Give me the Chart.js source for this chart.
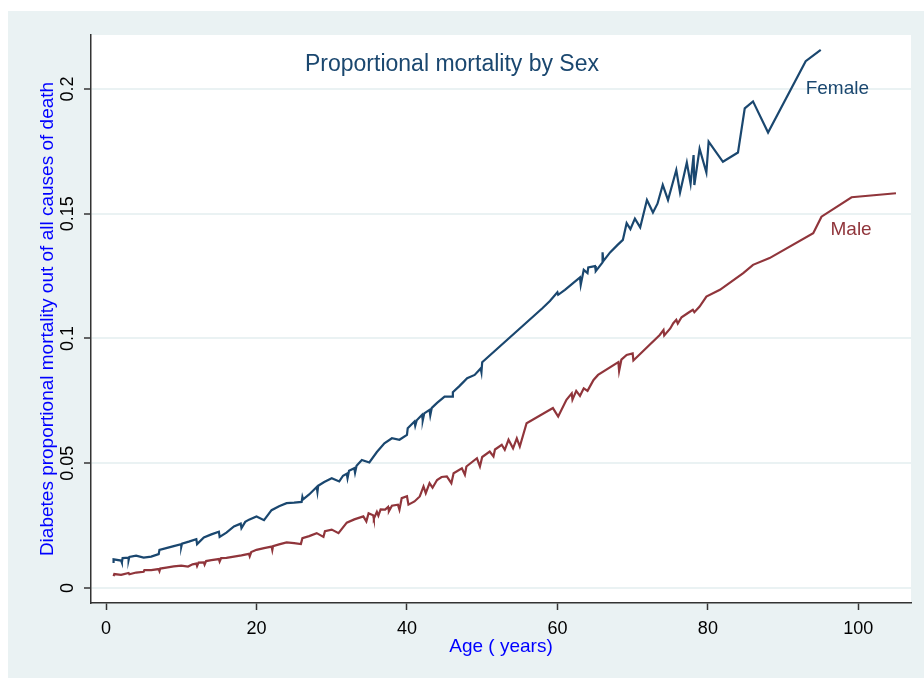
<!DOCTYPE html>
<html>
<head>
<meta charset="utf-8">
<script src="https://cdn.jsdelivr.net/npm/chart.js@4.4.1/dist/chart.umd.min.js"></script>
<style>
    html, body { margin: 0; padding: 0; background: #ffffff; }
    #wrap { position: absolute; left: 0; top: 0; width: 924px; height: 678px; }
</style>
</head>
<body>
<div id="wrap"><canvas id="chart" width="924" height="678"></canvas></div>
<script>
// age (years) and proportional mortality in plotting order
const femaleAge = [1, 1, 2, 2.1, 2.2, 3, 3, 3.1, 4, 5, 6, 7, 7.1, 8, 9, 10, 10, 10.1, 11, 12, 12.1, 13, 14, 15, 15.1, 16, 17, 17.9, 18, 18.5, 19, 20, 21, 22, 23, 24, 25, 26, 26.1, 26.2, 27, 28, 28.1, 28.2, 29, 30, 31, 31.5, 32, 32.1, 32.3, 33, 33.1, 33.3, 34, 35, 36, 37, 38, 39, 40, 40.1, 41, 41.1, 41.3, 42, 42.1, 42.3, 43, 43.1, 43.3, 44, 45, 46, 46.1, 47, 48, 49, 49.8, 49.9, 50, 58, 59, 60, 60.1, 61, 62, 63, 63.1, 63.5, 64, 64.1, 65, 65.1, 66, 66, 66.1, 67, 68, 68.7, 69.2, 69.7, 70.3, 71, 71.9, 72.7, 73.3, 74, 74.7, 75.8, 76.3, 77.2, 77.7, 78.1, 78.2, 78.9, 79.8, 80.1, 82, 84, 84.9, 86, 88, 93, 95];
const femaleRate = [0.0100, 0.0115, 0.0110, 0.0102, 0.0120, 0.0122, 0.0112, 0.0125, 0.0130, 0.0122, 0.0126, 0.0136, 0.0153, 0.0160, 0.0168, 0.0176, 0.0165, 0.0178, 0.0186, 0.0196, 0.0176, 0.0203, 0.0215, 0.0226, 0.0205, 0.0222, 0.0247, 0.0258, 0.0240, 0.0265, 0.0274, 0.0287, 0.0272, 0.0312, 0.0328, 0.0340, 0.0342, 0.0345, 0.0365, 0.0355, 0.0375, 0.0405, 0.0385, 0.0410, 0.0425, 0.0440, 0.0427, 0.0450, 0.0458, 0.0440, 0.0470, 0.0480, 0.0462, 0.0490, 0.0513, 0.0503, 0.0545, 0.0580, 0.0600, 0.0594, 0.0614, 0.0640, 0.0667, 0.0650, 0.0672, 0.0694, 0.0672, 0.0700, 0.0714, 0.0692, 0.0722, 0.0742, 0.0767, 0.0767, 0.0785, 0.0810, 0.0841, 0.0854, 0.0880, 0.0865, 0.0905, 0.1121, 0.1150, 0.1185, 0.1175, 0.1195, 0.1220, 0.1245, 0.1215, 0.1275, 0.1262, 0.1285, 0.1290, 0.1270, 0.1305, 0.1345, 0.1310, 0.1345, 0.1375, 0.1395, 0.1462, 0.1438, 0.1480, 0.1445, 0.1555, 0.1505, 0.1540, 0.1615, 0.1555, 0.1675, 0.1585, 0.1705, 0.1620, 0.1735, 0.1615, 0.1760, 0.1665, 0.1789, 0.1708, 0.1745, 0.1922, 0.1950, 0.1825, 0.2111, 0.2156];

const maleAge = [1, 1.1, 2, 3, 3.1, 4, 5, 5.1, 6, 7, 7.1, 7.2, 8, 9, 10, 10.9, 11.5, 12, 12.1, 12.3, 13, 13.1, 13.3, 14, 15, 15.1, 15.3, 16, 17, 18, 19, 19.1, 19.3, 20, 21, 22, 22.1, 22.2, 23, 24, 25, 25.9, 26.1, 27, 28, 28.9, 29.1, 30, 30.9, 32, 33, 34.2, 34.6, 34.9, 35.5, 35.6, 36, 36.2, 36.5, 37.1, 37.5, 37.6, 38, 38.8, 39, 39.3, 40, 40.2, 41, 41.7, 42.2, 42.5, 43, 43.4, 44, 44.6, 45.3, 45.9, 46.2, 47.3, 47.7, 47.9, 49.3, 49.7, 50, 51, 51.5, 51.7, 52.6, 53, 53.5, 54.1, 54.6, 55, 55.9, 59.4, 60.1, 61.2, 61.9, 62, 62.5, 63, 63.5, 64, 64.8, 65.4, 68.1, 68.2, 68.5, 69.2, 70, 70.1, 73.6, 74.1, 74.2, 75, 75.4, 75.8, 76, 76.5, 77.5, 78, 78.2, 78.9, 79.8, 81.6, 84.7, 86, 88.2, 94, 95.1, 99.1, 105];
const maleRate = [0.0048, 0.0056, 0.0053, 0.0060, 0.0055, 0.0062, 0.0065, 0.0072, 0.0072, 0.0076, 0.0068, 0.0078, 0.0082, 0.0087, 0.0090, 0.0086, 0.0095, 0.0098, 0.0088, 0.0102, 0.0103, 0.0094, 0.0108, 0.0112, 0.0116, 0.0106, 0.0120, 0.0121, 0.0126, 0.0131, 0.0137, 0.0127, 0.0144, 0.0153, 0.0160, 0.0166, 0.0152, 0.0168, 0.0175, 0.0183, 0.0180, 0.0176, 0.0200, 0.0208, 0.0220, 0.0205, 0.0228, 0.0234, 0.0220, 0.0262, 0.0275, 0.0287, 0.0267, 0.0300, 0.0292, 0.0278, 0.0305, 0.0290, 0.0315, 0.0314, 0.0325, 0.0308, 0.0330, 0.0334, 0.0314, 0.0360, 0.0368, 0.0334, 0.0347, 0.0367, 0.0407, 0.0380, 0.0420, 0.0402, 0.0433, 0.0445, 0.0447, 0.0420, 0.0460, 0.0480, 0.0454, 0.0487, 0.0520, 0.0487, 0.0525, 0.0547, 0.0527, 0.0555, 0.0574, 0.0554, 0.0594, 0.0560, 0.0600, 0.0567, 0.0660, 0.0721, 0.0687, 0.0754, 0.0780, 0.0755, 0.0790, 0.0770, 0.0800, 0.0790, 0.0834, 0.0854, 0.0905, 0.0870, 0.0915, 0.0934, 0.0940, 0.0912, 0.1014, 0.1034, 0.1012, 0.1040, 0.1061, 0.1075, 0.1060, 0.1085, 0.1105, 0.1115, 0.1105, 0.1128, 0.1168, 0.1195, 0.1262, 0.1295, 0.1322, 0.1422, 0.1488, 0.1566, 0.1582];

const xTicks = [0, 20, 40, 60, 80, 100];
const yTicks = [0, 0.05, 0.1, 0.15, 0.2];
const yTickLabels = ['0', '0.05', '0.1', '0.15', '0.2'];

const FONT = '"Liberation Sans", Arial, sans-serif';
const NAVY = '#1a476f';
const MAROON = '#90353b';
const BG = '#eaf2f3';

function toPoints(ages, rates) {
    return ages.map((a, i) => ({ x: a, y: rates[i] }));
}

// backgrounds: white page, light graph region, white plot region
const backgroundPlugin = {
    id: 'stataBackground',
    beforeDraw(chart) {
        const ctx = chart.ctx;
        const area = chart.chartArea;
        ctx.save();
        ctx.fillStyle = '#ffffff';
        ctx.fillRect(0, 0, chart.width, chart.height);
        ctx.fillStyle = BG;
        ctx.fillRect(8, 11, chart.width - 8, chart.height - 11);
        ctx.fillStyle = '#ffffff';
        ctx.fillRect(area.left, area.top, area.right - area.left, area.bottom - area.top);
        ctx.restore();
    }
};

// rotated y tick labels, title and line labels
const textPlugin = {
    id: 'stataText',
    afterDraw(chart) {
        const ctx = chart.ctx;
        const xs = chart.scales.x;
        const ys = chart.scales.y;
        ctx.save();

        ctx.font = '18px ' + FONT;
        ctx.fillStyle = '#000000';
        ctx.textAlign = 'center';
        ctx.textBaseline = 'middle';
        yTicks.forEach((v, i) => {
            ctx.save();
            ctx.translate(chart.chartArea.left - 23, ys.getPixelForValue(v));
            ctx.rotate(-Math.PI / 2);
            ctx.fillText(yTickLabels[i], 0, 0);
            ctx.restore();
        });

        ctx.font = '23px ' + FONT;
        ctx.fillStyle = NAVY;
        ctx.fillText('Proportional mortality by Sex', 452, 65);

        ctx.font = '19px ' + FONT;
        ctx.textAlign = 'left';
        ctx.fillStyle = NAVY;
        ctx.fillText('Female', xs.getPixelForValue(93.0), ys.getPixelForValue(0.2));
        ctx.fillStyle = MAROON;
        ctx.fillText('Male', xs.getPixelForValue(96.3), ys.getPixelForValue(0.1435));
        ctx.restore();
    }
};

new Chart(document.getElementById('chart'), {
    type: 'scatter',
    data: {
        datasets: [
            {
                label: 'Female',
                data: toPoints(femaleAge, femaleRate),
                borderColor: NAVY,
                backgroundColor: NAVY,
                showLine: true,
                borderWidth: 2.2,
                pointRadius: 0,
                tension: 0
            },
            {
                label: 'Male',
                data: toPoints(maleAge, maleRate),
                borderColor: MAROON,
                backgroundColor: MAROON,
                showLine: true,
                borderWidth: 2.2,
                pointRadius: 0,
                tension: 0
            }
        ]
    },
    options: {
        responsive: false,
        animation: false,
        layout: { padding: { left: 0, top: 35, right: 13, bottom: 0 } },
        plugins: {
            legend: { display: false },
            tooltip: { enabled: false }
        },
        scales: {
            x: {
                type: 'linear',
                min: -2,
                max: 107,
                afterBuildTicks: (scale) => { scale.ticks = xTicks.map(v => ({ value: v })); },
                afterFit: (scale) => { scale.height = 75; },
                border: { display: true, color: '#333333', width: 1.5 },
                grid: {
                    drawOnChartArea: false,
                    drawTicks: true,
                    tickLength: 7,
                    tickColor: '#333333',
                    tickWidth: 1.5
                },
                ticks: {
                    color: '#000000',
                    font: { family: FONT, size: 18 },
                    padding: 8,
                    maxRotation: 0,
                    callback: (v) => String(v)
                },
                title: {
                    display: true,
                    text: 'Age ( years)',
                    color: '#0000ff',
                    font: { family: FONT, size: 19 },
                    padding: { top: 0, bottom: 20 }
                }
            },
            y: {
                type: 'linear',
                min: -0.006,
                max: 0.2216,
                afterBuildTicks: (scale) => { scale.ticks = yTicks.map(v => ({ value: v })); },
                afterFit: (scale) => { scale.width = 91; },
                border: { display: true, color: '#333333', width: 1.5 },
                grid: {
                    color: BG,
                    lineWidth: 2,
                    drawTicks: true,
                    tickLength: 7,
                    tickColor: '#333333',
                    tickWidth: 1.5
                },
                ticks: { display: false },
                title: {
                    display: true,
                    text: 'Diabetes proportional mortality out of all causes of death',
                    color: '#0000ff',
                    font: { family: FONT, size: 19 },
                    padding: { top: 36, bottom: 0 }
                }
            }
        }
    },
    plugins: [backgroundPlugin, textPlugin]
});
</script>
</body>
</html>
